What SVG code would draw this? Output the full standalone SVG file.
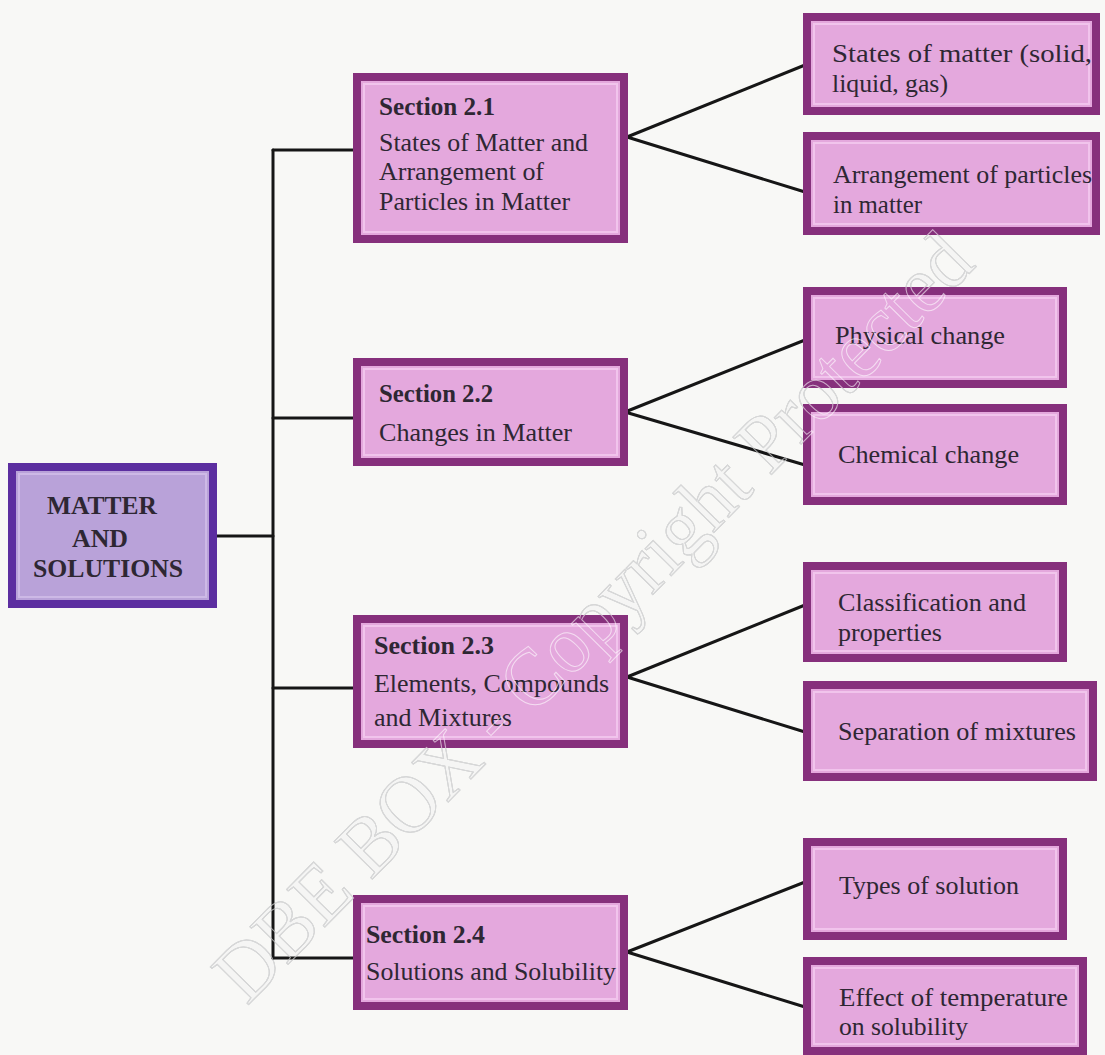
<svg xmlns="http://www.w3.org/2000/svg" width="1105" height="1055" viewBox="0 0 1105 1055">
<style>
.bg{fill:#f8f8f6}
.sec rect.o,.leaf rect.o{fill:#e4a8dd;stroke:#86307c;stroke-width:8}
.sec rect.i,.leaf rect.i{fill:none;stroke:#f1c4ec;stroke-width:2}
.root rect.o{fill:#b9a2d9;stroke:#5c2ea0;stroke-width:8}
.root rect.i{fill:none;stroke:#cdb9e6;stroke-width:2}
text{font-family:"Liberation Serif","Times New Roman",serif;font-size:25px;fill:#2e2733}
text.b{font-weight:bold}
.conn line{stroke:#161616;stroke-width:3;stroke-linecap:round}
.wm{font-family:"Liberation Serif","Times New Roman",serif;font-size:82px;fill:#f5f5f4;stroke:#909294;stroke-width:1;opacity:0.85}
.wm2{font-family:"Liberation Serif","Times New Roman",serif;font-size:82px;fill:none;stroke:#ffffff;stroke-width:1;opacity:0.6}
</style>
<rect class="bg" x="0" y="0" width="1105" height="1055"/>
<g id="watermark" transform="translate(612,636) rotate(-45.4)">
<text class="wm" x="0" y="0" text-anchor="middle" textLength="1040" lengthAdjust="spacingAndGlyphs">DBE BOX - Copyright Protected</text>
</g>
<g id="connectors" class="conn">
<line x1="217" y1="536" x2="273" y2="536"/>
<line x1="273" y1="150" x2="273" y2="958"/>
<line x1="273" y1="150" x2="353" y2="150"/>
<line x1="273" y1="418" x2="353" y2="418"/>
<line x1="273" y1="688" x2="353" y2="688"/>
<line x1="273" y1="958" x2="353" y2="958"/>
<line x1="627" y1="137" x2="805" y2="65"/>
<line x1="627" y1="137" x2="805" y2="192"/>
<line x1="625" y1="412" x2="805" y2="340"/>
<line x1="625" y1="412" x2="805" y2="465"/>
<line x1="627" y1="677" x2="805" y2="605"/>
<line x1="627" y1="677" x2="805" y2="732"/>
<line x1="627" y1="952" x2="805" y2="882"/>
<line x1="627" y1="952" x2="805" y2="1007"/>
</g>
<g id="root" class="root">
<rect class="o" x="12" y="467" width="201" height="137"/>
<rect class="i" x="19" y="474" width="187" height="123"/>
<text class="b" x="47" y="514" textLength="110" lengthAdjust="spacingAndGlyphs">MATTER</text>
<text class="b" x="72" y="547" textLength="56" lengthAdjust="spacingAndGlyphs">AND</text>
<text class="b" x="33" y="577" textLength="150" lengthAdjust="spacingAndGlyphs">SOLUTIONS</text>
</g>
<g id="sec21" class="sec">
<rect class="o" x="357" y="77" width="267" height="162"/>
<rect class="i" x="364" y="84" width="253" height="148"/>
<text class="b" x="379" y="115" textLength="116" lengthAdjust="spacingAndGlyphs">Section 2.1</text>
<text x="379" y="151" textLength="209" lengthAdjust="spacingAndGlyphs">States of Matter and</text>
<text x="379" y="180" textLength="165" lengthAdjust="spacingAndGlyphs">Arrangement of</text>
<text x="379" y="210" textLength="191" lengthAdjust="spacingAndGlyphs">Particles in Matter</text>
</g>
<g id="sec22" class="sec">
<rect class="o" x="357" y="362" width="267" height="100"/>
<rect class="i" x="364" y="369" width="253" height="86"/>
<text class="b" x="379" y="402" textLength="114" lengthAdjust="spacingAndGlyphs">Section 2.2</text>
<text x="379" y="441" textLength="193" lengthAdjust="spacingAndGlyphs">Changes in Matter</text>
</g>
<g id="sec23" class="sec">
<rect class="o" x="357" y="619" width="267" height="125"/>
<rect class="i" x="364" y="626" width="253" height="111"/>
<text class="b" x="374" y="654" textLength="120" lengthAdjust="spacingAndGlyphs">Section 2.3</text>
<text x="374" y="692" textLength="235" lengthAdjust="spacingAndGlyphs">Elements, Compounds</text>
<text x="374" y="726" textLength="138" lengthAdjust="spacingAndGlyphs">and Mixtures</text>
</g>
<g id="sec24" class="sec">
<rect class="o" x="357" y="899" width="267" height="107"/>
<rect class="i" x="364" y="906" width="253" height="93"/>
<text class="b" x="366" y="943" textLength="119" lengthAdjust="spacingAndGlyphs">Section 2.4</text>
<text x="366" y="980" textLength="250" lengthAdjust="spacingAndGlyphs">Solutions and Solubility</text>
</g>
<g id="leaf1" class="leaf">
<rect class="o" x="807" y="17" width="289" height="94"/>
<rect class="i" x="814" y="24" width="275" height="80"/>
<text x="832" y="62" textLength="260" lengthAdjust="spacingAndGlyphs">States of matter (solid,</text>
<text x="832" y="92" textLength="116" lengthAdjust="spacingAndGlyphs">liquid, gas)</text>
</g>
<g id="leaf2" class="leaf">
<rect class="o" x="807" y="136" width="289" height="95"/>
<rect class="i" x="814" y="143" width="275" height="81"/>
<text x="833" y="183" textLength="259" lengthAdjust="spacingAndGlyphs">Arrangement of particles</text>
<text x="833" y="213" textLength="89" lengthAdjust="spacingAndGlyphs">in matter</text>
</g>
<g id="leaf3" class="leaf">
<rect class="o" x="807" y="291" width="256" height="93"/>
<rect class="i" x="814" y="298" width="242" height="79"/>
<text x="835" y="344" textLength="170" lengthAdjust="spacingAndGlyphs">Physical change</text>
</g>
<g id="leaf4" class="leaf">
<rect class="o" x="807" y="408" width="256" height="93"/>
<rect class="i" x="814" y="415" width="242" height="79"/>
<text x="838" y="463" textLength="181" lengthAdjust="spacingAndGlyphs">Chemical change</text>
</g>
<g id="leaf5" class="leaf">
<rect class="o" x="807" y="566" width="256" height="92"/>
<rect class="i" x="814" y="573" width="242" height="78"/>
<text x="838" y="611" textLength="188" lengthAdjust="spacingAndGlyphs">Classification and</text>
<text x="838" y="641" textLength="104" lengthAdjust="spacingAndGlyphs">properties</text>
</g>
<g id="leaf6" class="leaf">
<rect class="o" x="807" y="685" width="286" height="92"/>
<rect class="i" x="814" y="692" width="272" height="78"/>
<text x="838" y="740" textLength="238" lengthAdjust="spacingAndGlyphs">Separation of mixtures</text>
</g>
<g id="leaf7" class="leaf">
<rect class="o" x="807" y="842" width="256" height="94"/>
<rect class="i" x="814" y="849" width="242" height="80"/>
<text x="839" y="894" textLength="180" lengthAdjust="spacingAndGlyphs">Types of solution</text>
</g>
<g id="leaf8" class="leaf">
<rect class="o" x="807" y="961" width="276" height="90"/>
<rect class="i" x="814" y="968" width="262" height="76"/>
<text x="839" y="1006" textLength="229" lengthAdjust="spacingAndGlyphs">Effect of temperature</text>
<text x="839" y="1035" textLength="129" lengthAdjust="spacingAndGlyphs">on solubility</text>
</g>
<g id="watermark-over" transform="translate(612,636) rotate(-45.4)">
<text class="wm2" x="0" y="0" text-anchor="middle" textLength="1040" lengthAdjust="spacingAndGlyphs">DBE BOX - Copyright Protected</text>
</g>
</svg>
